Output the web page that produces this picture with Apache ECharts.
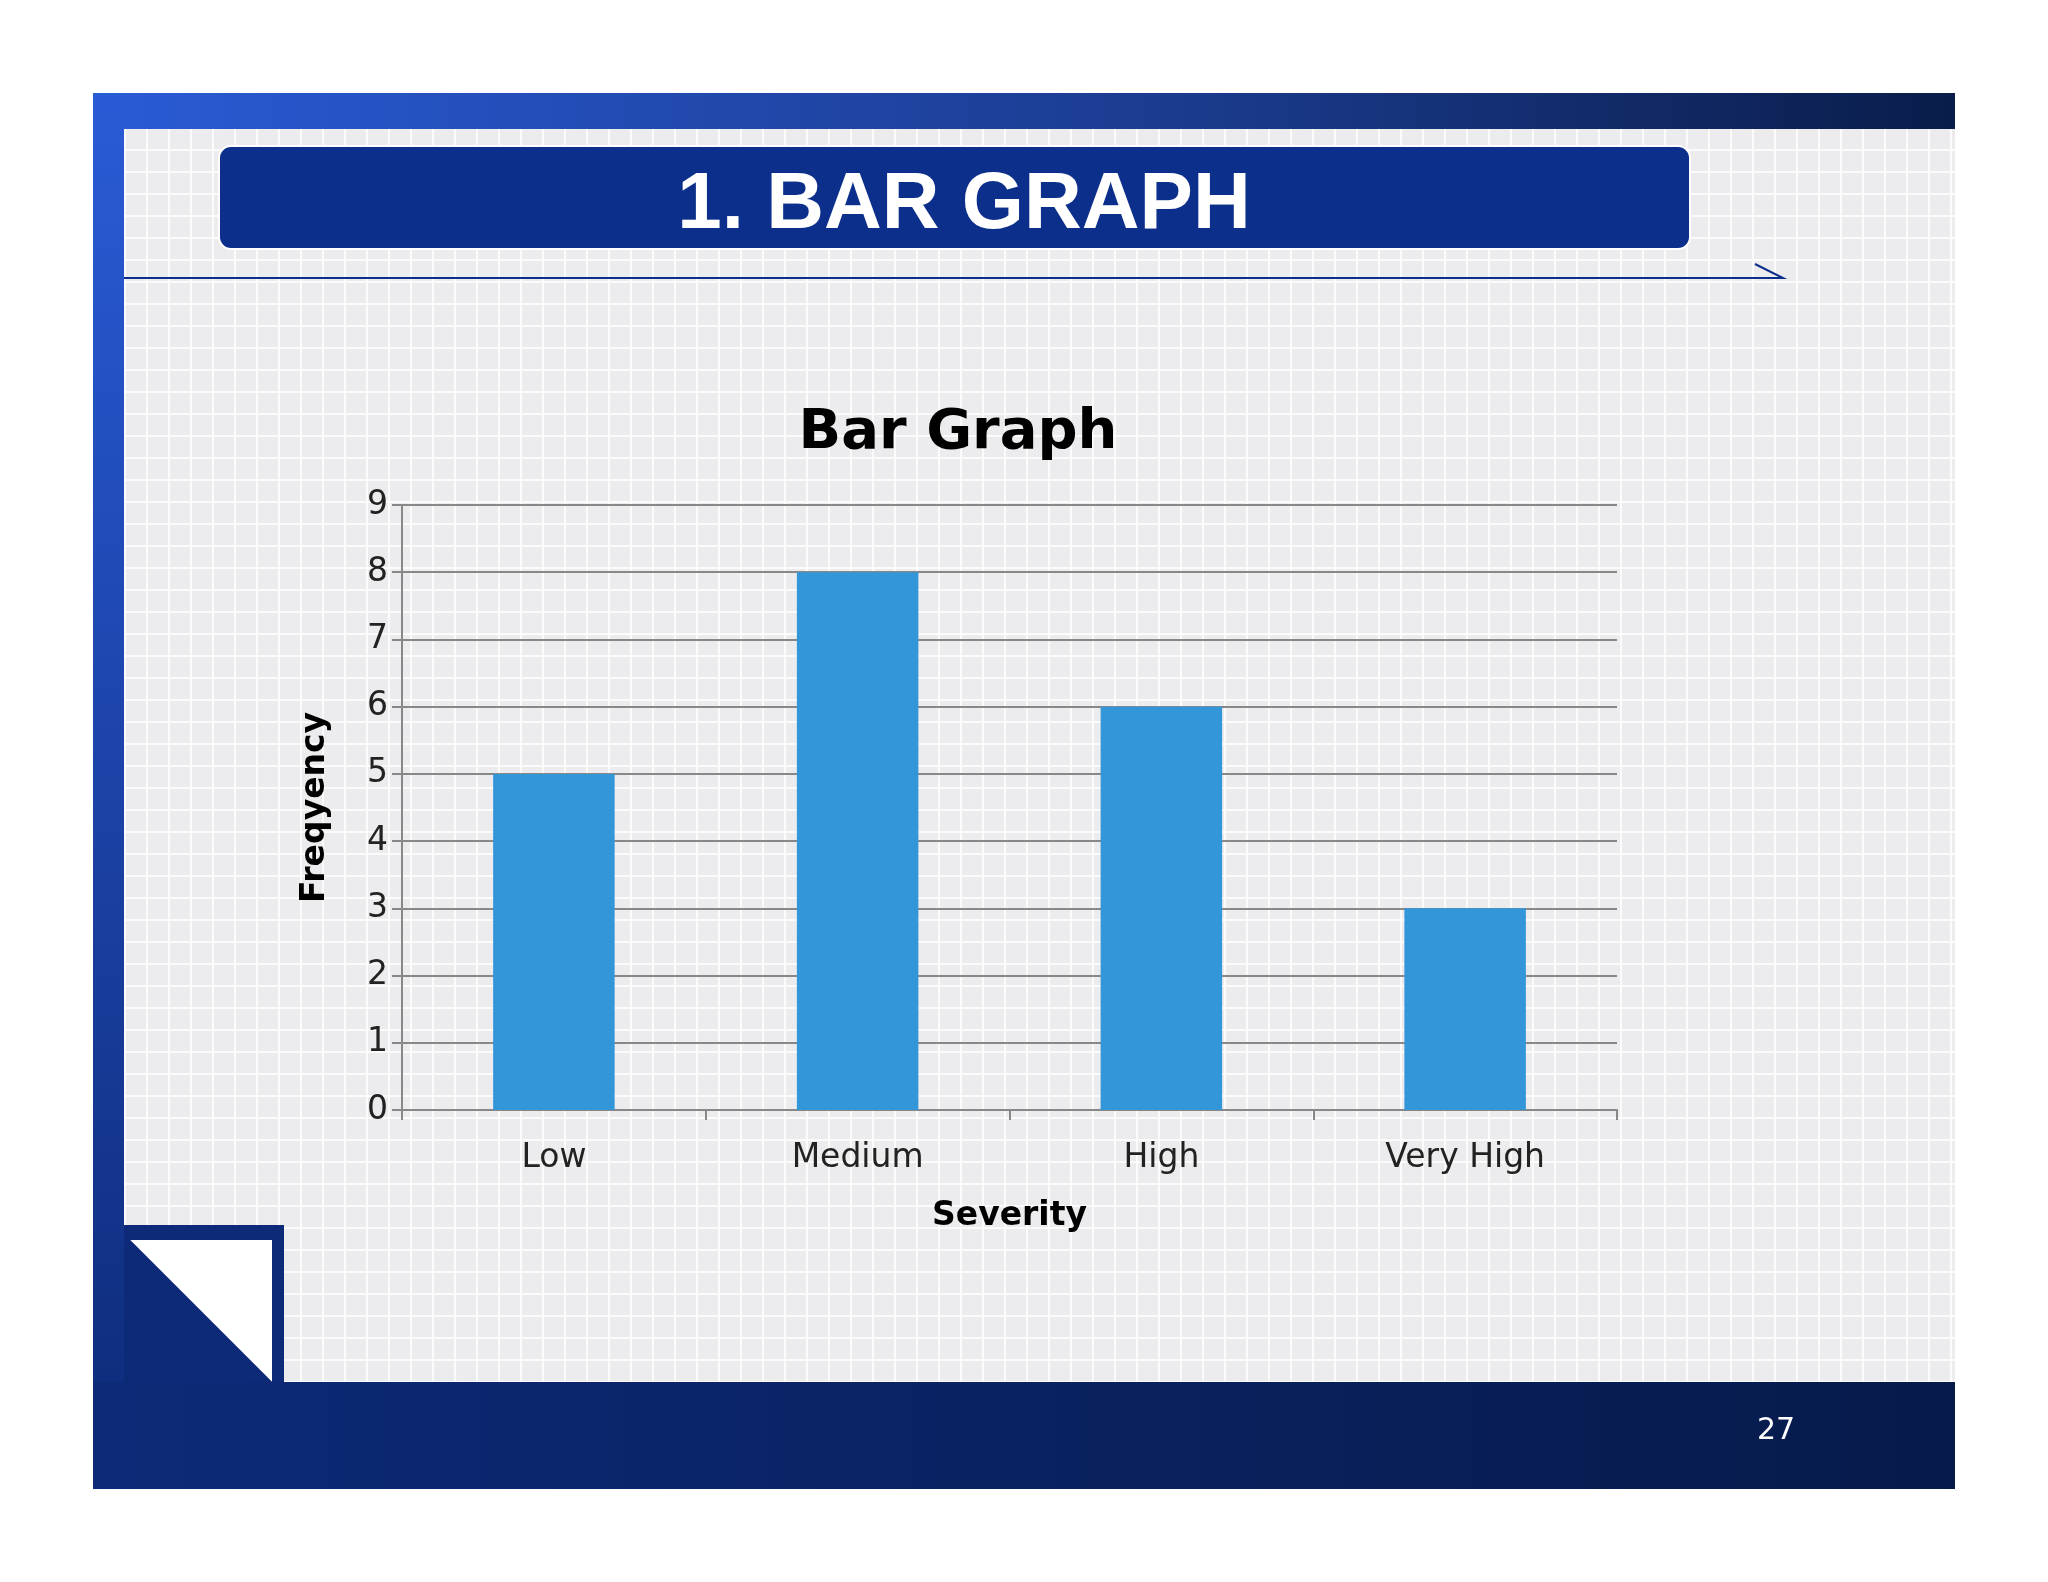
<!DOCTYPE html>
<html lang="en">
<head>
    <meta charset="UTF-8">
    <title>bar graph</title>
    <style>
        html, body { margin: 0; padding: 0; width: 100%; height: 100%; background: #fff; }
        #paper {
            position: absolute; left: 124px; top: 129px; width: 1831px; height: 1253px;
            background-color: #ececee;
            background-image:
                linear-gradient(90deg, rgba(255,255,255,0.8) 2px, transparent 2px),
                linear-gradient(0deg, rgba(255,255,255,0.8) 2px, transparent 2px);
            background-size: 22px 22px;
        }
        #canvas { position: absolute; left: 0; top: 0; width: 2048px; height: 1582px; }
    </style>
</head>
<body>
<div id="paper"></div>
<div id="canvas"></div>
</body>
<script src="https://cdn.jsdelivr.net/npm/echarts@6/dist/echarts.min.js"></script>
<script>
    const categories = ['Low', 'Medium', 'High', 'Very High']
    const frequency = [5, 8, 6, 3]
    const yTicks = [0, 1, 2, 3, 4, 5, 6, 7, 8, 9]

    const myChart = echarts.init(document.getElementById('canvas'))
    const font = 'Verdana, "DejaVu Sans", sans-serif'

    myChart.setOption({
        backgroundColor: 'transparent',
        title: {
            text: 'Bar Graph',
            left: 953, top: 400, textAlign: 'center',
            textStyle: { fontFamily: font, fontSize: 56, fontWeight: 'bold', color: '#000' }
        },
        grid: { left: 402, top: 505, width: 1215, height: 605 },
        xAxis: {
            type: 'category',
            data: categories,
            name: 'Severity',
            nameLocation: 'middle',
            nameGap: 90,
            nameTextStyle: { fontFamily: font, fontSize: 33, fontWeight: 'bold', color: '#000' },
            axisLine: { lineStyle: { color: '#888', width: 2 } },
            axisTick: { show: true, length: 10, lineStyle: { color: '#888', width: 2 } },
            axisLabel: { fontFamily: font, fontSize: 33, color: '#222', margin: 32 }
        },
        yAxis: {
            type: 'value',
            min: yTicks[0],
            max: yTicks[yTicks.length - 1],
            interval: 1,
            name: 'Freqyency',
            nameLocation: 'middle',
            nameGap: 70,
            nameTextStyle: { fontFamily: font, fontSize: 33, fontWeight: 'bold', color: '#000' },
            axisLine: { show: true, lineStyle: { color: '#888', width: 2 } },
            axisTick: { show: true, length: 10, lineStyle: { color: '#888', width: 2 } },
            axisLabel: { fontFamily: font, fontSize: 33, color: '#222', margin: 14 },
            splitLine: { lineStyle: { color: '#888', width: 2 } }
        },
        series: [{
            type: 'bar',
            data: frequency,
            barWidth: '40%',
            itemStyle: { color: '#3396d8' }
        }],
        graphic: [
            // frame bands
            { type: 'rect', z: -1, shape: { x: 93, y: 93, width: 1862, height: 36 },
              style: { fill: new echarts.graphic.LinearGradient(0, 0, 1, 0, [
                  { offset: 0, color: '#2a5bd6' }, { offset: 0.6, color: '#1a3a8c' }, { offset: 1, color: '#0a1d4a' }]) } },
            { type: 'rect', z: -1, shape: { x: 93, y: 93, width: 31, height: 1396 },
              style: { fill: new echarts.graphic.LinearGradient(0, 0, 0, 1, [
                  { offset: 0, color: '#2a5bd6' }, { offset: 1, color: '#0d2a78' }]) } },
            { type: 'rect', z: -1, shape: { x: 93, y: 1382, width: 1862, height: 107 },
              style: { fill: new echarts.graphic.LinearGradient(0, 0, 1, 0, [
                  { offset: 0, color: '#0d2a78' }, { offset: 1, color: '#061a4a' }]) } },
            // corner fold
            { type: 'rect', shape: { x: 124, y: 1225, width: 160, height: 157 }, style: { fill: '#0d2a78' } },
            { type: 'polygon', shape: { points: [[130, 1240], [272, 1240], [272, 1382]] }, style: { fill: '#fff' } },
            { type: 'polygon', shape: { points: [[130, 1240], [272, 1382], [130, 1382]] }, style: { fill: '#0d2a78' } },
            // title box
            { type: 'rect', shape: { x: 219, y: 146, width: 1471, height: 103, r: 12 },
              style: { fill: '#0d2f8c', stroke: '#fff', lineWidth: 2 } },
            { type: 'text', x: 964, y: 206,
              style: { text: '1. BAR GRAPH', fill: '#fff', font: 'bold 80px "Liberation Sans", Arial, sans-serif',
                       textAlign: 'center', textVerticalAlign: 'middle' } },
            { type: 'polyline', shape: { points: [[124, 278], [1783, 278], [1755, 264]] },
              style: { stroke: '#0d2f8c', lineWidth: 2, fill: null } },
            { type: 'text', x: 1776, y: 1431,
              style: { text: '27', fill: '#fff', font: '30px Verdana, "DejaVu Sans", sans-serif',
                       textAlign: 'center', textVerticalAlign: 'middle' } }
        ]
    })
</script>
</html>
